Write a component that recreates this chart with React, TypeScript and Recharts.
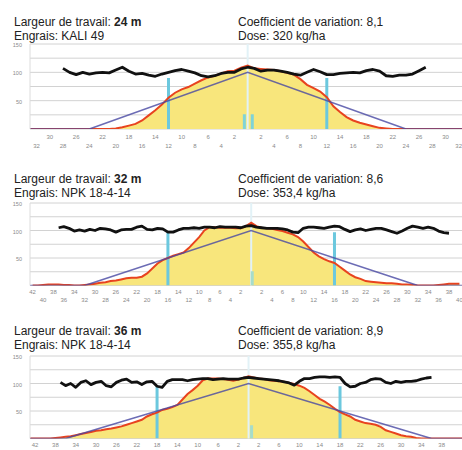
import React from "react";
import {
  ComposedChart,
  Line,
  Area,
  XAxis,
  YAxis,
  CartesianGrid,
  ReferenceLine,
} from "recharts";

// header texts
const WIDTHS = ["24 m", "32 m", "36 m"];
const FERTILIZERS = ["KALI 49", "NPK 18-4-14", "NPK 18-4-14"];
const CVS = ["8,1", "8,6", "8,9"];
const DOSES = ["320 kg/ha", "353,4 kg/ha", "355,8 kg/ha"];

const Y_TICKS = [0, 25, 50, 75, 100, 125, 150];
const Y_LABELS = [50, 100, 150];

// ---- 24 m ----
const P1_TICKS = [-32, -30, -28, -26, -24, -22, -20, -18, -16, -14, -12, -10, -8, -6, -4, -2, 2, 4, 6, 8, 10, 12, 14, 16, 18, 20, 22, 24, 26, 28, 30, 32];
const P1_RED_X = [-33, -22, -21, -20, -19, -18, -17, -16, -15, -14, -13, -12, -11, -10, -9, -8, -7, -6, -5, -4, -3, -2, -1, 0, 1, 2, 3, 4, 5, 6, 7, 8, 9, 10, 11, 12, 13, 14, 15, 16, 17, 18, 19, 20, 21, 22, 33];
const P1_RED = [0, 0, 0, 1, 3, 6, 9, 15, 24, 33, 43, 55, 64, 70, 74, 80, 86, 91, 94, 98, 102, 103, 108, 112, 107, 106, 105, 104, 102, 99, 96, 88, 78, 72, 66, 56, 40, 30, 21, 15, 11, 8, 5, 2, 1, 0, 0];
const P1_BLACK_START = -28;
const P1_BLACK = [107, 100, 96, 100, 97, 99, 100, 99, 104, 109, 102, 97, 98, 95, 93, 97, 100, 103, 105, 102, 99, 94, 92, 94, 98, 100, 100, 106, 109, 107, 102, 104, 104, 102, 100, 97, 95, 100, 105, 101, 96, 96, 98, 99, 100, 99, 103, 105, 102, 94, 93, 95, 95, 97, 103, 109];
const P1_BLUE_X = [-33, -24, 0, 24, 33];
const P1_BLUE = [0, 0, 100, 0, 0];
const P1_BARS_X = [-12, 12];
const P1_BARS = [90, 90];
const P1_CENTER_X = [-0.5, 0.7];
const P1_CENTER = [26, 26];

// ---- 32 m ----
const P2_TICKS = [-42, -40, -38, -36, -34, -32, -30, -28, -26, -24, -22, -20, -18, -16, -14, -12, -10, -8, -6, -4, -2, 2, 4, 6, 8, 10, 12, 14, 16, 18, 20, 22, 24, 26, 28, 30, 32, 34, 36, 38, 40];
const P2_RED_START = -42;
const P2_RED = [
  0, 0, 1, 2, 2, 2, 1, 1, 0, 0,
  1, 2, 3, 5, 6, 8, 9, 11, 13, 14,
  14, 16, 22, 31, 40, 46, 50, 54, 57, 60,
  68, 78, 88, 100, 106, 106, 105, 105, 105, 104,
  104, 108, 114, 108, 105, 104, 103, 101, 99, 96,
  93, 88, 80, 70, 60, 53, 48, 44, 41, 34,
  27, 20, 15, 12, 8, 7, 6, 5, 4, 4,
  3, 2, 2, 1, 0, 0, 0, 0, 1, 2,
  3, 3, 3,
];
const P2_BLACK_START = -37;
const P2_BLACK = [
  105, 107, 104, 99, 101, 99, 102, 100, 104, 103,
  101, 97, 101, 102, 102, 106, 108, 102, 101, 104,
  103, 97, 97, 101, 104, 104, 105, 104, 106, 106,
  105, 107, 106, 106, 106, 105, 108, 109, 106, 105,
  104, 104, 104, 103, 101, 97, 96, 104, 106, 106,
  105, 104, 106, 108, 107, 102, 98, 101, 103, 100,
  102, 104, 104, 101, 98, 95, 99, 104, 108, 106,
  104, 106, 104, 99, 96, 95,
];
const P2_BLUE_X = [-42.5, -32, 0, 32, 40.5];
const P2_BLUE = [0, 0, 100, 0, 0];
const P2_BARS_X = [-16, 16];
const P2_BARS = [97, 97];
const P2_CENTER_X = [0.2];
const P2_CENTER = [26];

// ---- 36 m ---- (only the upper tick row fits in the picture)
const P3_TICKS = [-42, -38, -34, -30, -26, -22, -18, -14, -10, -6, -2, 2, 6, 10, 14, 18, 22, 26, 30, 34, 38];
const P3_RED_START = -43;
const P3_RED = [
  0, 0, 0, 0, 0,
  1, 2, 3, 4, 6, 8, 10, 12, 14, 15,
  17, 18, 20, 22, 25, 28, 31, 34, 40, 44,
  47, 52, 54, 57, 61, 71, 81, 88, 96, 106,
  109, 109, 109, 108, 107, 105, 107, 110, 113, 111,
  109, 108, 106, 105, 104, 103, 101, 99, 96, 92,
  86, 79, 72, 67, 61, 54, 48, 44, 40, 34,
  31, 28, 27, 25, 21, 15, 12, 9, 6, 4,
  3, 1, 0, 0, 0, 0, 0, 0, 0, 0,
  0,
];
const P3_BLACK_START = -37;
const P3_BLACK = [
  102, 96, 100, 93, 102, 105, 98, 102, 104, 96,
  94, 102, 106, 108, 102, 103, 98, 103, 104, 95,
  93, 104, 107, 107, 107, 105, 107, 108, 109, 109,
  107, 108, 109, 108, 108, 108, 110, 111, 110, 109,
  108, 107, 106, 105, 103, 101, 97, 104, 109, 109,
  111, 112, 112, 111, 112, 111, 100, 94, 95, 100,
  102, 107, 109, 108, 102, 100, 104, 102, 104, 104,
  105, 108, 110, 111,
];
const P3_BLUE_X = [-43, -36, 0, 36, 42];
const P3_BLUE = [0, 0, 100, 0, 0];
const P3_BARS_X = [-18, 18];
const P3_BARS = [95, 95];
const P3_CENTER_X = [0.6];
const P3_CENTER = [24];

const pts = (xs: number[], vs: number[]) => xs.map((x, i) => ({ x, v: vs[i] }));
const seq = (start: number, vs: number[]) => vs.map((v, i) => ({ x: start + i, v }));

const PANELS = [
  {
    headTop: 15,
    top: 40,
    plotH: 85,
    domain: [-33, 32.5],
    ticks: P1_TICKS,
    rows: [10, 19],
    red: pts(P1_RED_X, P1_RED),
    black: seq(P1_BLACK_START, P1_BLACK),
    blue: pts(P1_BLUE_X, P1_BLUE),
    bars: pts(P1_BARS_X, P1_BARS),
    center: pts(P1_CENTER_X, P1_CENTER),
    centerColor: "#7fd3d8",
  },
  {
    headTop: 172,
    top: 198.5,
    plotH: 82.5,
    domain: [-42.5, 40.5],
    ticks: P2_TICKS,
    rows: [8, 16],
    red: seq(P2_RED_START, P2_RED),
    black: seq(P2_BLACK_START, P2_BLACK),
    blue: pts(P2_BLUE_X, P2_BLUE),
    bars: pts(P2_BARS_X, P2_BARS),
    center: pts(P2_CENTER_X, P2_CENTER),
    centerColor: "#a6dccb",
  },
  {
    headTop: 324,
    top: 351.5,
    plotH: 82.5,
    domain: [-43, 42],
    ticks: P3_TICKS,
    rows: [8, 16],
    red: seq(P3_RED_START, P3_RED),
    black: seq(P3_BLACK_START, P3_BLACK),
    blue: pts(P3_BLUE_X, P3_BLUE),
    bars: pts(P3_BARS_X, P3_BARS),
    center: pts(P3_CENTER_X, P3_CENTER),
    centerColor: "#a6dccb",
  },
];

const FONT = "'Liberation Sans', Arial, sans-serif";

function Panel({ cfg, idx }: any) {
  const XTick = (props: any) => {
    const v = props.payload.value;
    const row = Math.abs(v) % 4 === 2 ? 0 : 1;
    return (
      <text
        x={props.x}
        y={props.y + cfg.rows[row]}
        textAnchor="middle"
        fontSize={6}
        fill="#8a8a8a"
        fontFamily={FONT}
      >
        {Math.abs(v)}
      </text>
    );
  };
  const YTick = (props: any) => {
    const v = props.payload.value;
    if (!Y_LABELS.includes(v)) return <g />;
    return (
      <text x={22} y={props.y + 3} textAnchor="end" fontSize={5.5} fill="#8a8a8a" fontFamily={FONT}>
        {v}
      </text>
    );
  };

  return (
    <>
      <div
        style={{
          position: "absolute",
          left: 0,
          top: cfg.headTop,
          width: 462,
          fontFamily: FONT,
          fontSize: 12,
          lineHeight: "14px",
          color: "#222",
        }}
      >
        <div style={{ position: "absolute", left: 14, top: 0, whiteSpace: "nowrap" }}>
          Largeur de travail: <b>{WIDTHS[idx]}</b>
          <br />
          Engrais: {FERTILIZERS[idx]}
        </div>
        <div style={{ position: "absolute", left: 238, top: 0, whiteSpace: "nowrap" }}>
          Coefficient de variation: {CVS[idx]}
          <br />
          Dose: {DOSES[idx]}
        </div>
      </div>
      <div style={{ position: "absolute", left: 0, top: cfg.top }}>
        <ComposedChart
          width={462}
          height={4 + cfg.plotH + 24}
          margin={{ top: 4, right: 0, bottom: 0, left: 0 }}
        >
          <CartesianGrid vertical={false} stroke="#d2d2d2" />
          <XAxis
            type="number"
            dataKey="x"
            domain={cfg.domain}
            ticks={cfg.ticks}
            interval={0}
            allowDataOverflow
            axisLine={false}
            tickLine={false}
            tickSize={0}
            tickMargin={0}
            height={24}
            tick={XTick}
          />
          <YAxis
            type="number"
            dataKey="v"
            domain={[0, 150]}
            ticks={Y_TICKS}
            interval={0}
            allowDataOverflow
            width={30}
            axisLine={{ stroke: "#dcdcdc" }}
            tickLine={false}
            tick={YTick}
          />
          <ReferenceLine x={0} stroke="#e2f2f7" strokeWidth={2} />
          <Area
            data={cfg.red}
            dataKey="v"
            type="linear"
            fill="#f8e67c"
            fillOpacity={1}
            stroke="none"
            isAnimationActive={false}
          />
          {cfg.bars.map((b: any, i: number) => (
            <Line
              key={"bar" + i}
              data={[{ x: b.x, v: 0 }, b]}
              dataKey="v"
              type="linear"
              stroke="#6cc8de"
              strokeWidth={3}
              dot={false}
              isAnimationActive={false}
            />
          ))}
          {cfg.center.map((b: any, i: number) => (
            <Line
              key={"c" + i}
              data={[{ x: b.x, v: 0 }, b]}
              dataKey="v"
              type="linear"
              stroke={cfg.centerColor}
              strokeWidth={3}
              dot={false}
              isAnimationActive={false}
            />
          ))}
          <Line
            data={cfg.red}
            dataKey="v"
            type="linear"
            stroke="#e8431f"
            strokeWidth={2}
            dot={false}
            isAnimationActive={false}
          />
          <Line
            data={cfg.blue}
            dataKey="v"
            type="linear"
            stroke="#4747a2"
            strokeOpacity={0.8}
            strokeWidth={1.6}
            dot={false}
            isAnimationActive={false}
          />
          <Line
            data={cfg.black}
            dataKey="v"
            type="linear"
            stroke="#111"
            strokeWidth={2.8}
            strokeLinejoin="round"
            dot={false}
            isAnimationActive={false}
          />
        </ComposedChart>
      </div>
    </>
  );
}

export default function App() {
  return (
    <div
      style={{
        position: "absolute",
        left: 0,
        top: 0,
        width: 462,
        height: 450,
        overflow: "hidden",
        background: "#fff",
      }}
    >
      {PANELS.map((cfg, i) => (
        <Panel key={i} cfg={cfg} idx={i} />
      ))}
    </div>
  );
}
